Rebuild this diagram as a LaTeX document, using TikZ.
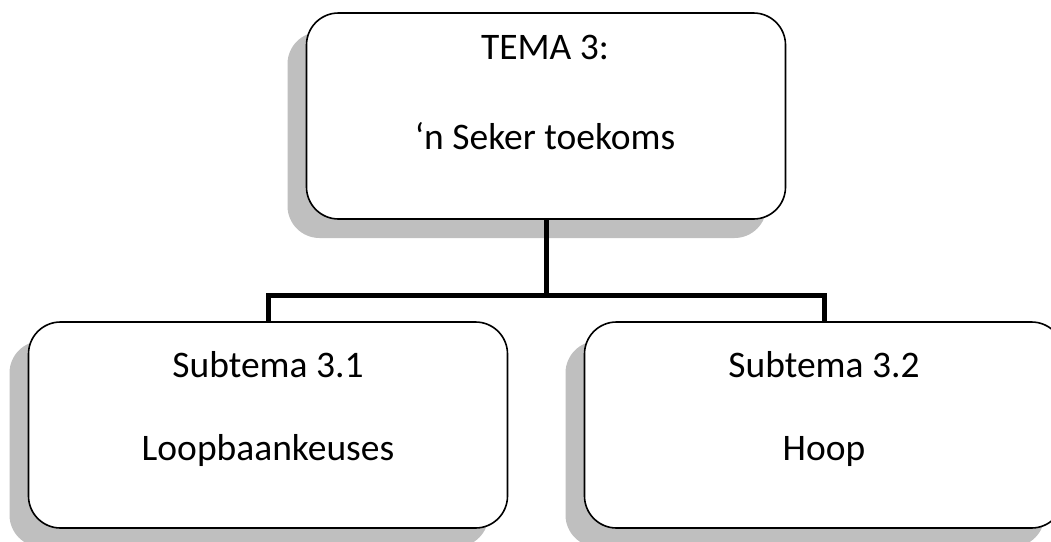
\documentclass[tikz,border=0pt]{standalone}
\usepackage{fontspec}
\setmainfont{Carlito}
\usetikzlibrary{shadows}
\begin{document}
\begin{tikzpicture}[x=1pt,y=-1pt,
  box/.style={draw=black, line width=1.6pt, fill=white, rounded corners=32pt,
    minimum width=479pt, minimum height=206pt, inner sep=0pt,
    general shadow={fill=black!25, shadow xshift=-19pt, shadow yshift=-19pt}},
  lbl/.style={font=\fontsize{37.5}{44}\selectfont, anchor=base, inner sep=0pt},
  conn/.style={line width=5pt, line join=miter, draw=black}]
\useasboundingbox (0,0) rectangle (1051,541);
\clip (0,0) rectangle (1051,541);
\node[box] (top) at (546,116) {};
\node[box] (left) at (268,425) {};
\node[box] (right) at (824,425) {};
\coordinate (j) at (546,295);
\draw[conn] (top.south) -- (j);
\draw[conn] (left.north) |- (j) -| (right.north);
\node[lbl] (t1) at (545,59) {TEMA 3:};
\node[lbl] (t2) at (545,149) {‘n Seker toekoms};
\node[lbl] (l1) at (268,377) {Subtema 3.1};
\node[lbl] (l2) at (268,460) {Loopbaankeuses};
\node[lbl] (r1) at (824,377) {Subtema 3.2};
\node[lbl] (r2) at (824,460) {Hoop};
\end{tikzpicture}
\end{document}
